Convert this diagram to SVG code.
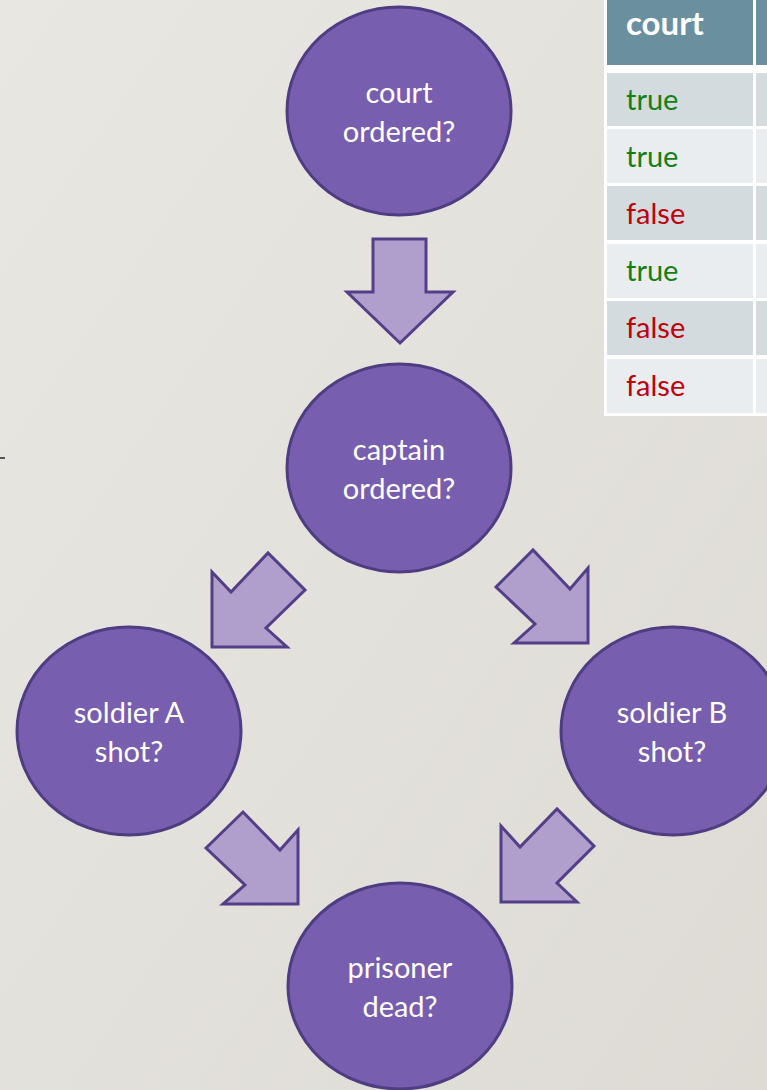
<svg xmlns="http://www.w3.org/2000/svg" width="767" height="1090" viewBox="0 0 767 1090">
  <defs>
    <linearGradient id="bg" x1="0" y1="0" x2="1" y2="1">
      <stop offset="0" stop-color="#e9e7e2"/>
      <stop offset="1" stop-color="#dedbd5"/>
    </linearGradient>
    <style>
      .node { fill: #775eae; stroke: #4f3d82; stroke-width: 3; }
      .lbl { font-family: Lato, "Open Sans", sans-serif; font-size: 29px; fill: #ffffff; text-anchor: middle; }
      .arrow { fill: #b09fcd; stroke: #533f88; stroke-width: 3; stroke-linejoin: miter; }
      .hdr { fill: #6a909f; }
      .odd { fill: #d3dbde; }
      .even { fill: #e9edf0; }
      .th { font-family: Lato, "Open Sans", sans-serif; font-size: 33px; font-weight: bold; fill: #ffffff; }
      .td { font-family: Lato, "Open Sans", sans-serif; font-size: 29px; }
      .t { fill: #138013; }
      .f { fill: #c0000c; }
    </style>
  </defs>
  <rect x="0" y="0" width="767" height="1090" fill="url(#bg)"/>
  <rect x="0" y="457" width="5" height="2" fill="#555555"/>

  <g id="table">
    <rect x="604" y="0" width="163" height="416" fill="#ffffff"/>
    <rect class="hdr" x="607" y="0" width="146" height="65"/>
    <rect class="hdr" x="756" y="0" width="11" height="65"/>
    <rect class="odd" x="607" y="73" width="146" height="53"/>
    <rect class="odd" x="756" y="73" width="11" height="53"/>
    <rect class="even" x="607" y="129" width="146" height="54"/>
    <rect class="even" x="756" y="129" width="11" height="54"/>
    <rect class="odd" x="607" y="186" width="146" height="54"/>
    <rect class="odd" x="756" y="186" width="11" height="54"/>
    <rect class="even" x="607" y="244" width="146" height="54"/>
    <rect class="even" x="756" y="244" width="11" height="54"/>
    <rect class="odd" x="607" y="301" width="146" height="54"/>
    <rect class="odd" x="756" y="301" width="11" height="54"/>
    <rect class="even" x="607" y="359" width="146" height="54"/>
    <rect class="even" x="756" y="359" width="11" height="54"/>
    <text class="th" x="626" y="35">court</text>
    <text class="td t" x="626" y="110">true</text>
    <text class="td t" x="626" y="167">true</text>
    <text class="td f" x="626" y="224">false</text>
    <text class="td t" x="626" y="281">true</text>
    <text class="td f" x="626" y="338">false</text>
    <text class="td f" x="626" y="396">false</text>
  </g>

  <g id="connectors">
    <polygon class="arrow" points="373,239 426,239 426,292 453,292 400,343 347,292 373,292"/>
    <polygon class="arrow" points="212,572 231,592 268,553 305,590 266,628 287,647 212,647"/>
    <polygon class="arrow" points="496,587 533,550 570,589 588,568 588,643 514,643 535,624"/>
    <polygon class="arrow" points="206,848 243,812 280,850 298,830 298,904 223,904 245,885"/>
    <polygon class="arrow" points="501,826 520,847 557,809 594,846 557,883 577,902 501,902"/>
  </g>

  <g id="court">
    <ellipse class="node" cx="399" cy="111" rx="112" ry="104"/>
    <text class="lbl" x="399" y="103">court</text>
    <text class="lbl" x="399" y="142">ordered?</text>
  </g>
  <g id="captain">
    <ellipse class="node" cx="399" cy="468" rx="112" ry="104"/>
    <text class="lbl" x="399" y="460">captain</text>
    <text class="lbl" x="399" y="499">ordered?</text>
  </g>
  <g id="soldierA">
    <ellipse class="node" cx="129" cy="731" rx="112" ry="104"/>
    <text class="lbl" x="129" y="723">soldier A</text>
    <text class="lbl" x="129" y="762">shot?</text>
  </g>
  <g id="soldierB">
    <ellipse class="node" cx="673" cy="731" rx="112" ry="104"/>
    <text class="lbl" x="672" y="723">soldier B</text>
    <text class="lbl" x="672" y="762">shot?</text>
  </g>
  <g id="prisoner">
    <ellipse class="node" cx="400" cy="986" rx="112" ry="103"/>
    <text class="lbl" x="400" y="978">prisoner</text>
    <text class="lbl" x="400" y="1017">dead?</text>
  </g>
</svg>
